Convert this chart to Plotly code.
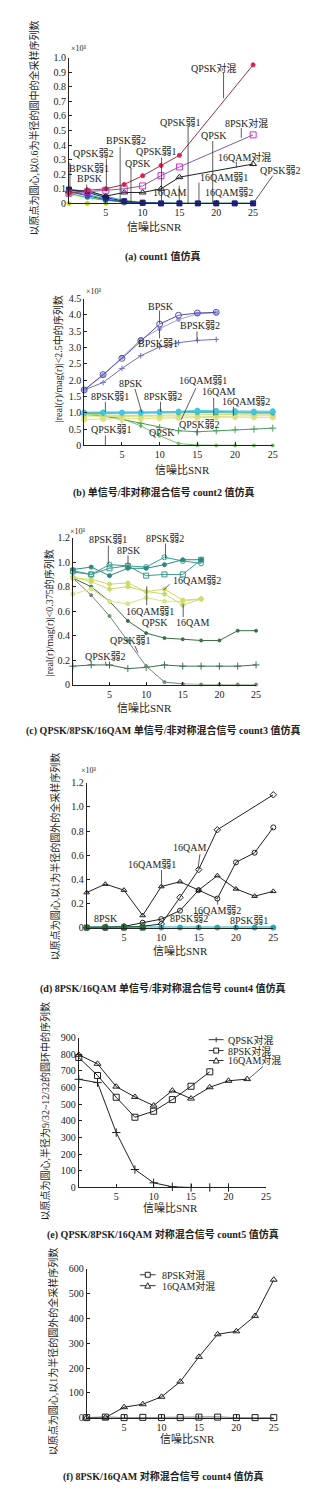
import plotly.graph_objects as go

W, H = 330, 1500
SNR = [0, 2.5, 5, 7.5, 10, 12.5, 15, 17.5, 20, 22.5, 25]
SNR_S = [0, 2.5, 5, 7.5, 10, 12.5, 15, 17.5]

# ---------- panel (a) count1 (x10^3) ----------
a_qpsk_mix_x = [0, 2.5, 5, 7.5, 10, 12.5, 15, 25]
a_qpsk_mix = [0.07, 0.09, 0.10, 0.13, 0.19, 0.26, 0.33, 0.95]
a_8psk_mix_x = [0, 2.5, 5, 7.5, 10, 12.5, 15, 25]
a_8psk_mix = [0.07, 0.08, 0.09, 0.10, 0.12, 0.19, 0.25, 0.47]
a_16qam_mix_x = [0, 2.5, 5, 7.5, 10, 12.5, 15, 25]
a_16qam_mix = [0.085, 0.088, 0.05, 0.075, 0.075, 0.10, 0.18, 0.27]
a_bpsk = [0.095, 0.075, 0.04, 0.015, 0.005, 0, 0, 0, 0, 0, 0]
a_bpsk_w1 = [0.08, 0.05, 0.025, 0.01, 0, 0, 0, 0, 0, 0, 0]
a_bpsk_w2 = [0.10, 0.08, 0.05, 0.02, 0.005, 0, 0, 0, 0, 0, 0]
a_qpsk = [0.08, 0.06, 0.03, 0.01, 0, 0, 0, 0, 0, 0, 0]
a_qpsk_w1 = [0.07, 0.04, 0.02, 0.01, 0, 0, 0, 0, 0, 0, 0]
a_qpsk_w2 = [0.06, 0.04, 0.025, 0.02, 0.01, 0, 0, 0, 0, 0, 0]
a_16qam = [0, 0, 0, 0, 0, 0, 0, 0, 0, 0, 0]

# ---------- panel (b) count2 (x10^3) ----------
b_bpsk = [1.70, 2.17, 2.67, 3.21, 3.72, 3.99, 4.06, 4.08]
b_bpsk_w1 = [1.70, 2.15, 2.70, 3.25, 3.58, 3.86, 4.03, 4.07]
b_bpsk_w2 = [1.70, 1.93, 2.36, 2.75, 3.02, 3.15, 3.22, 3.25]
b_8psk = [1.00, 1.01, 1.00, 1.00, 1.03, 1.04, 1.07, 1.06, 1.05, 1.04, 1.05]
b_8psk_w1 = [1.02, 1.02, 1.02, 1.03, 1.02, 1.03, 1.05, 1.03, 1.03, 1.02, 1.02]
b_8psk_w2 = [0.98, 0.98, 1.00, 1.00, 1.00, 1.00, 1.01, 1.00, 1.01, 1.00, 0.99]
b_16qam = [0.80, 0.81, 0.81, 0.82, 0.83, 0.84, 0.85, 0.86, 0.87, 0.86, 0.86]
b_16qam_w1 = [0.90, 0.89, 0.88, 0.87, 0.86, 0.87, 0.88, 0.90, 0.90, 0.91, 0.91]
b_16qam_w2 = [0.95, 0.93, 0.92, 0.92, 0.93, 0.94, 0.95, 0.96, 0.97, 0.96, 0.96]
b_qpsk = [0.97, 0.93, 0.82, 0.60, 0.30, 0.06, 0.01, 0, 0, 0, 0]
b_qpsk_w2 = [0.95, 0.90, 0.80, 0.68, 0.55, 0.45, 0.42, 0.45, 0.48, 0.50, 0.53]

# ---------- panel (c) count3 (x10^3) ----------
c_8psk = [0.94, 0.96, 0.89, 0.95, 0.95, 0.98, 1.02, 1.02]
c_8psk_w1 = [0.92, 0.90, 0.98, 0.97, 0.96, 1.04, 1.01, 0.99]
c_8psk_w2 = [0.93, 0.90, 0.95, 0.97, 0.89, 0.90, 0.90, 1.02]
c_16qam = [0.87, 0.86, 0.82, 0.83, 0.76, 0.78, 0.69, 0.70]
c_16qam_w1 = [0.74, 0.78, 0.68, 0.66, 0.71, 0.68, 0.68, 0.70]
c_16qam_w2 = [0.88, 0.84, 0.78, 0.80, 0.76, 0.74, 0.65, 0.70]
c_qpsk = [0.87, 0.80, 0.68, 0.52, 0.42, 0.38, 0.37, 0.36, 0.36, 0.44, 0.44]
c_qpsk_w1 = [0.87, 0.73, 0.56, 0.36, 0.15, 0.02, 0.005, 0, 0, 0, 0]
c_qpsk_w2 = [0.15, 0.16, 0.16, 0.13, 0.14, 0.16, 0.15, 0.15, 0.15, 0.15, 0.16]

# ---------- panel (d) count4 (x10^3) ----------
d_16qam_x = [0, 2.5, 5, 7.5, 10, 12.5, 15, 17.5, 25]
d_16qam = [0, 0, 0.005, 0.01, 0.03, 0.25, 0.48, 0.81, 1.10]
d_16qam_w1 = [0.29, 0.36, 0.31, 0.10, 0.34, 0.38, 0.31, 0.43, 0.32, 0.26, 0.30]
d_16qam_w2 = [0, 0, 0.01, 0.04, 0.07, 0.14, 0.31, 0.24, 0.54, 0.62, 0.83]
d_8psk_x = [0, 2.5, 5, 7.5]
d_8psk = [0, 0, 0, 0]
d_8psk_w = [0, 0, 0, 0, 0, 0, 0, 0, 0, 0, 0]

# ---------- panel (e) count5 ----------
e_qpsk_x = [0, 2.5, 5, 7.5, 10, 12.5, 15, 17.5, 20]
e_qpsk = [650, 630, 330, 108, 28, 4, 0, 0, 0]
e_8psk_x = [0, 2.5, 5, 7.5, 10, 12.5, 15, 17.5]
e_8psk = [781, 673, 542, 422, 458, 528, 608, 695]
e_16qam_x = [0, 2.5, 5, 7.5, 10, 12.5, 15, 17.5, 20, 22.5]
e_16qam = [797, 743, 606, 544, 492, 582, 534, 602, 641, 651]

# ---------- panel (f) count4 ----------
f_8psk = [0, 2, 0, 1, 0, 0, 2, 2, 0, 0, 0]
f_16qam = [0, 0, 42, 54, 84, 145, 245, 336, 348, 410, 556]

# tick labels
a_ticks = [0, 0.1, 0.2, 0.3, 0.4, 0.5, 0.6, 0.7, 0.8, 0.9, 1.0]
a_ticktext = ["0", "0.1", "0.2", "0.3", "0.4", "0.5", "0.6", "0.7", "0.8", "0.9", "1.0"]
b_ticks = [0, 0.5, 1.0, 1.5, 2.0, 2.5, 3.0, 3.5, 4.0, 4.5]
b_ticktext = ["0", "0.5", "1.0", "1.5", "2.0", "2.5", "3.0", "3.5", "4.0", "4.5"]
cd_ticks = [0, 0.2, 0.4, 0.6, 0.8, 1.0, 1.2]
cd_ticktext = ["0", "0.2", "0.4", "0.6", "0.8", "1.0", "1.2"]
e_ticks = [0, 100, 200, 300, 400, 500, 600, 700, 800, 900]
f_ticks = [0, 100, 200, 300, 400, 500, 600]
x_ticks = [5, 10, 15, 20, 25]

SERIF = "Liberation Serif, Noto Sans CJK SC"

# panel geometry in page pixels: x of SNR 0, x of SNR 25, y of value 0, y of top value
GEOM = [
    dict(x0=70, x1=257, yb=199, yt=52, yr=[0, 1.0], tv=a_ticks, tt=a_ticktext),
    dict(x0=85.5, x1=277, yb=443, yt=295, yr=[0, 4.5], tv=b_ticks, tt=b_ticktext),
    dict(x0=74, x1=260, yb=684, yt=536, yr=[0, 1.2], tv=cd_ticks, tt=cd_ticktext),
    dict(x0=88, x1=277.5, yb=929, yt=783, yr=[0, 1.2], tv=cd_ticks, tt=cd_ticktext),
    dict(x0=80, x1=270, yb=1191, yt=1040, yr=[0, 900], tv=e_ticks, tt=[str(v) for v in e_ticks]),
    dict(x0=88, x1=278, yb=1423, yt=1273, yr=[0, 600], tv=f_ticks, tt=[str(v) for v in f_ticks]),
]

fig = go.Figure()


def add(panel, x, y, color, symbol="circle", size=4, width=1, mcolor=None):
    ax = "" if panel == 0 else str(panel + 1)
    fig.add_trace(go.Scatter(
        x=x, y=y, mode="lines+markers", xaxis="x" + ax, yaxis="y" + ax,
        line=dict(color=color, width=width),
        marker=dict(symbol=symbol, size=size, color=mcolor or color,
                    line=dict(color=mcolor or color, width=1)),
        cliponaxis=False, showlegend=False, hoverinfo="skip"))


# (a)
add(0, SNR, a_16qam, "#c8d400", "circle", 4)
add(0, SNR, a_qpsk_w2, "#e8e000", "circle", 4)
add(0, SNR, a_qpsk_w1, "#20c0a0", "circle", 4)
add(0, SNR, a_qpsk, "#20a040", "circle", 4)
add(0, SNR, a_bpsk_w2, "#20b8d8", "circle", 4)
add(0, SNR, a_bpsk_w1, "#3050d0", "square", 4)
add(0, SNR, a_bpsk, "#202080", "square", 5)
add(0, a_16qam_mix_x, a_16qam_mix, "#202020", "triangle-up-open", 6)
add(0, a_8psk_mix_x, a_8psk_mix, "#8a5a9a", "square-open", 6, 1, "#d030d0")
add(0, a_qpsk_mix_x, a_qpsk_mix, "#a03040", "circle", 4, 1, "#e02050")

# (b)
add(1, SNR, b_qpsk, "#7cc070", "circle", 3)
add(1, SNR, b_qpsk_w2, "#4aa060", "cross-thin", 5)
add(1, SNR, b_16qam, "#e8e070", "circle", 5)
add(1, SNR, b_16qam_w1, "#d8e08a", "circle", 5)
add(1, SNR, b_16qam_w2, "#c8dc70", "circle", 4)
add(1, SNR, b_8psk_w2, "#50b0a8", "circle", 4)
add(1, SNR, b_8psk_w1, "#40a8c0", "circle", 4)
add(1, SNR, b_8psk, "#40c8e0", "circle", 5)
add(1, SNR_S, b_bpsk_w2, "#7070c0", "cross-thin", 4)
add(1, SNR_S, b_bpsk_w1, "#a0a0e0", "circle", 4)
add(1, SNR_S, b_bpsk, "#5050b0", "circle-open", 6)

# (c)
add(2, SNR, c_qpsk_w2, "#3f7050", "cross-thin", 5)
add(2, SNR, c_qpsk_w1, "#6f8a70", "circle", 3)
add(2, SNR, c_qpsk, "#3a7040", "circle", 3)
add(2, SNR_S, c_16qam_w1, "#d8e48a", "circle", 4)
add(2, SNR_S, c_16qam_w2, "#c8da70", "diamond", 4)
add(2, SNR_S, c_16qam, "#d0dc60", "circle", 4)
add(2, SNR_S, c_8psk_w2, "#3a9a8a", "square-open", 5)
add(2, SNR_S, c_8psk_w1, "#30a090", "circle-open", 5)
add(2, SNR_S, c_8psk, "#2a8a80", "circle", 4)

# (d)
add(3, SNR, d_16qam_w1, "#202020", "triangle-up-open", 5)
add(3, SNR, d_16qam_w2, "#202020", "circle-open", 5)
add(3, d_16qam_x, d_16qam, "#202020", "diamond-open", 5)
add(3, SNR, d_8psk_w, "#20a8b8", "circle", 5, 2)
add(3, d_8psk_x, d_8psk, "#2a6a30", "square", 5, 2)

# (e)
add(4, e_qpsk_x, e_qpsk, "#202020", "cross-thin", 6)
add(4, e_8psk_x, e_8psk, "#202020", "square-open", 6)
add(4, e_16qam_x, e_16qam, "#202020", "triangle-up-open", 6)

# (f)
add(5, SNR, f_16qam, "#202020", "triangle-up-open", 6)
add(5, SNR, f_8psk, "#202020", "square-open", 6)

# axes
layout = dict(width=W, height=H, margin=dict(l=0, r=0, t=0, b=0),
              paper_bgcolor="white", plot_bgcolor="white", showlegend=False)
for i, g in enumerate(GEOM):
    ax = "" if i == 0 else str(i + 1)
    layout["xaxis" + ax] = dict(
        domain=[g["x0"] / W, g["x1"] / W], range=[0, 25], anchor="y" + ax,
        tickvals=x_ticks, ticks="inside", ticklen=3, tickcolor="#222",
        showline=True, linecolor="#222", linewidth=1, showgrid=False,
        zeroline=False, tickfont=dict(family=SERIF, size=10, color="#222"))
    layout["yaxis" + ax] = dict(
        domain=[1 - g["yb"] / H, 1 - g["yt"] / H], range=g["yr"], anchor="x" + ax,
        tickvals=g["tv"], ticktext=g["tt"], ticks="inside", ticklen=3,
        tickcolor="#222", showline=True, linecolor="#222", linewidth=1,
        showgrid=False, zeroline=False,
        tickfont=dict(family=SERIF, size=10, color="#222"))
fig.update_layout(**layout)

ann = []
shp = []


def txt(t, x, y, size=10, bold=False, angle=0, anchor="center", fam=SERIF):
    ann.append(dict(text=("<b>%s</b>" % t) if bold else t, x=x / W, y=1 - y / H,
                    xref="paper", yref="paper", showarrow=False, textangle=angle,
                    xanchor=anchor, yanchor="middle",
                    font=dict(family=fam, size=size, color="#222")))


def seg(x0, y0, x1, y1, w=0.8):
    shp.append(dict(type="line", xref="paper", yref="paper", x0=x0 / W, y0=1 - y0 / H,
                    x1=x1 / W, y1=1 - y1 / H, line=dict(color="#333", width=w)))


# captions / titles
captions = [
    ("(a) count1 值仿真", 253),
    ("(b) 单信号/非对称混合信号 count2 值仿真", 490),
    ("(c) QPSK/8PSK/16QAM 单信号/非对称混合信号 count3 值仿真", 730),
    ("(d) 8PSK/16QAM 单信号/非对称混合信号 count4 值仿真", 990),
    ("(e) QPSK/8PSK/16QAM 对称混合信号 count5 值仿真", 1238),
    ("(f) 8PSK/16QAM 对称混合信号 count4 值仿真", 1482),
]
for t, y in captions:
    txt(t, 166, y, size=10, bold=True)

xtitles = [(157, 223), (185, 468), (147, 708), (183, 953), (173, 1212), (190, 1445)]
for x, y in xtitles:
    txt("信噪比SNR", x, y, size=11)

ytitles = [
    ("以原点为圆心,以0.6为半径的圆中的全采样序列数", 35, 123),
    ("|real(r)/mag(r)|<2.5中的序列数", 59, 356),
    ("|real(r)/mag(r)|<0.375的序列数", 50, 612),
    ("以原点为圆心,以1为半径的圆外的全采样序列数", 56, 857),
    ("以原点为圆心,半径为9/32~12/32的圆环中的序列数", 46, 1114),
    ("以原点为圆心,以1为半径的圆外的全采样序列数", 54, 1356),
]
for t, x, y in ytitles:
    txt(t, x, y, size=10, angle=-90)

for x, y in [(80, 43), (95, 288), (79, 530), (90, 771)]:
    txt("×10³", x, y, size=8)

# (a) labels
for t, x, y in [("QPSK对混", 217, 62), ("QPSK弱1", 183, 117), ("8PSK对混", 250, 118),
                ("QPSK", 217, 131), ("BPSK弱2", 128, 136), ("QPSK弱2", 95, 149),
                ("QPSK弱1", 159, 147), ("QPSK", 140, 159), ("16QAM对混", 248, 152),
                ("BPSK弱1", 90, 164), ("BPSK", 91, 174), ("QPSK弱2", 285, 166),
                ("16QAM弱1", 227, 173), ("16QAM", 172, 188), ("16QAM弱2", 233, 188)]:
    txt(t, x, y)
for s in [(227, 67, 227, 93), (191, 122, 191, 199), (245, 123, 245, 133), (216, 136, 216, 199),
          (122, 142, 122, 199), (108, 154, 108, 187), (164, 153, 164, 199), (133, 164, 133, 199),
          (240, 157, 240, 163), (71, 158, 71, 187), (88, 180, 88, 187), (277, 171, 257, 199),
          (202, 178, 202, 199), (182, 181, 182, 199)]:
    seg(*s)

# (b) labels
for t, x, y in [("BPSK", 163, 303), ("BPSK弱2", 203, 322), ("BPSK弱1", 160, 340),
                ("8PSK", 133, 381), ("16QAM弱1", 206, 378), ("16QAM", 222, 389),
                ("16QAM弱2", 250, 399), ("8PSK弱1", 112, 394), ("8PSK弱2", 166, 394),
                ("QPSK弱2", 203, 422), ("QPSK弱1", 113, 427), ("QPSK", 164, 430)]:
    txt(t, x, y)
for s in [(162, 307, 162, 320), (200, 328, 200, 338), (162, 335, 162, 325),
          (137, 386, 144, 410), (199, 385, 184, 417), (217, 395, 217, 413),
          (237, 404, 237, 413), (107, 399, 107, 409), (163, 399, 163, 409),
          (200, 427, 200, 433), (107, 433, 107, 443)]:
    seg(*s)

# (c) labels
for t, x, y in [("8PSK弱1", 110, 538), ("8PSK弱2", 168, 537), ("8PSK", 131, 549),
                ("16QAM弱2", 200, 579), ("16QAM弱1", 152, 610), ("QPSK", 157, 621),
                ("16QAM", 195, 621), ("QPSK弱1", 133, 640), ("QPSK弱2", 107, 656)]:
    txt(t, x, y)
for s in [(110, 544, 110, 563), (168, 542, 168, 557), (130, 554, 130, 565),
          (172, 583, 166, 589), (149, 604, 149, 585), (186, 616, 186, 603),
          (137, 645, 140, 652), (107, 661, 108, 665)]:
    seg(*s)

# (d) labels
for t, x, y in [("16QAM", 192, 848), ("16QAM弱1", 154, 865), ("16QAM弱2", 220, 912),
                ("8PSK弱2", 192, 920), ("8PSK弱1", 253, 922), ("8PSK", 108, 920)]:
    txt(t, x, y)
for s in [(203, 855, 201, 870), (164, 871, 164, 887), (221, 906, 221, 901), (108, 925, 108, 929)]:
    seg(*s)

# (e) legend (drawn manually)
for t, y in [("QPSK对混", 1042), ("8PSK对混", 1053), ("16QAM对混", 1063)]:
    txt(t, 229, y, anchor="left")
    seg(212, y, 227, y, 1)
seg(219.5, 1039.5, 219.5, 1044.5, 1)
shp.append(dict(type="rect", xref="paper", yref="paper", x0=217 / W, x1=222 / W,
                y0=1 - 1055.5 / H, y1=1 - 1050.5 / H, line=dict(color="#222", width=1),
                fillcolor="white"))
shp.append(dict(type="path", xref="paper", yref="paper",
                path="M %f %f L %f %f L %f %f Z" % (216.5 / W, 1 - 1065.5 / H, 222.5 / W,
                                                    1 - 1065.5 / H, 219.5 / W, 1 - 1060 / H),
                line=dict(color="#222", width=1), fillcolor="white"))
seg(267, 1069, 252, 1082)

# (f) legend
for t, y in [("8PSK对混", 1279), ("16QAM对混", 1290)]:
    txt(t, 162, y, anchor="left")
    seg(142, y, 158, y, 1)
shp.append(dict(type="rect", xref="paper", yref="paper", x0=147.5 / W, x1=152.5 / W,
                y0=1 - 1281.5 / H, y1=1 - 1276.5 / H, line=dict(color="#222", width=1),
                fillcolor="white"))
shp.append(dict(type="path", xref="paper", yref="paper",
                path="M %f %f L %f %f L %f %f Z" % (147 / W, 1 - 1292.5 / H, 153 / W,
                                                    1 - 1292.5 / H, 150 / W, 1 - 1287 / H),
                line=dict(color="#222", width=1), fillcolor="white"))

fig.update_layout(annotations=ann, shapes=shp)
fig.write_html("out.html", config={"displayModeBar": False},
               post_script="document.body.style.margin='0';")
